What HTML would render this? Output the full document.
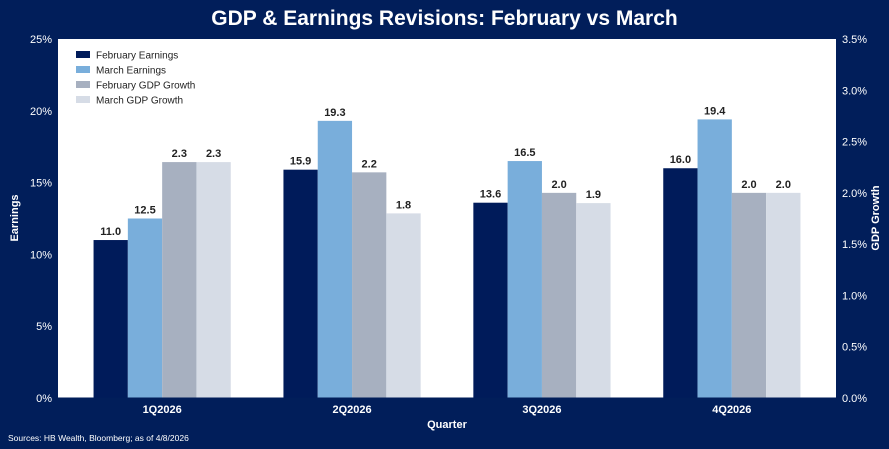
<!DOCTYPE html>
<html><head><meta charset="utf-8"><style>
body{margin:0;background:#011e5a;}
svg{display:block;font-family:"Liberation Sans",Arial,sans-serif;}
</style></head><body>
<svg id="c" width="889" height="449">
<rect width="889" height="449" fill="#011e5a"/>
<text x="444.5" y="25" fill="#fff" font-size="21" font-weight="bold" text-anchor="middle">GDP &amp; Earnings Revisions: February vs March</text>
<rect x="58" y="39" width="778" height="359" fill="#fff"/>
<g id="g"></g>
<text x="18" y="218" fill="#fff" font-size="11" font-weight="bold" text-anchor="middle" transform="rotate(-90 18 218)">Earnings</text>
<text x="879" y="218" fill="#fff" font-size="11" font-weight="bold" text-anchor="middle" transform="rotate(-90 879 218)">GDP Growth</text>
<text x="447" y="428" fill="#fff" font-size="11" font-weight="bold" text-anchor="middle">Quarter</text>
<text x="8" y="441" fill="#fff" font-size="8.5">Sources: HB Wealth, Bloomberg; as of 4/8/2026</text>
</svg>
<script>
const categories=["1Q2026","2Q2026","3Q2026","4Q2026"];
const febEarnings=[11.0,15.9,13.6,16.0];
const marEarnings=[12.5,19.3,16.5,19.4];
const febGDP=[2.3,2.2,2.0,2.0];
const marGDP=[2.3,1.8,1.9,2.0];
const leftTicks=[0,5,10,15,20,25];
const rightTicks=[0,0.5,1.0,1.5,2.0,2.5,3.0,3.5];
const NS="http://www.w3.org/2000/svg";
const g=document.getElementById('g');
const x0=58,x1=836,y0=398,y1=39;
const yL=v=>y0-(v/25)*(y0-y1);
const yR=v=>y0-(v/3.5)*(y0-y1);
const pad=9.2;
const bw=(x1-x0-2*pad)/categories.length;
const xC=i=>x0+pad+bw*(i+0.5);
function mk(t,a){const e=document.createElementNS(NS,t);for(const k in a)e.setAttribute(k,a[k]);g.appendChild(e);return e;}
leftTicks.forEach(v=>{const t=mk('text',{x:52,y:yL(v)+4,fill:'#fff','font-size':11,'text-anchor':'end'});t.textContent=v+'%';

});
rightTicks.forEach(v=>{const t=mk('text',{x:842,y:yR(v)+4,fill:'#fff','font-size':11});t.textContent=v.toFixed(1)+'%';

});
const series=[{d:febEarnings,c:'#001b5a',s:yL,n:'feb-earnings'},{d:marEarnings,c:'#79aedb',s:yL,n:'mar-earnings'},{d:febGDP,c:'#a7b0c0',s:yR,n:'feb-gdp'},{d:marGDP,c:'#d6dce6',s:yR,n:'mar-gdp'}];
const w=34.3;
categories.forEach((c,i)=>{
 series.forEach((s,j)=>{
  const x=xC(i)-2*w+j*w,y=s.s(s.d[i]);
  const r=mk('rect',{x:x,y:y,width:w,height:y0-y,fill:s.c});
  
  
  const t=mk('text',{x:x+w/2,y:y-5,fill:'#222','font-size':11,'font-weight':'bold','text-anchor':'middle'});
  t.textContent=s.d[i].toFixed(1);
  
  
 });
 const t=mk('text',{x:xC(i),y:413,fill:'#fff','font-size':11,'font-weight':'bold','text-anchor':'middle'});
 t.textContent=c;
 
 
});
const ax=mk('line',{x1:x0,y1:y0,x2:x1,y2:y0,stroke:'#011e5a','stroke-width':1});


const names=["February Earnings","March Earnings","February GDP Growth","March GDP Growth"];
names.forEach((n,j)=>{
 const r=mk('rect',{x:76,y:51+j*15,width:14,height:7,fill:series[j].c});
 
 
 const t=mk('text',{x:96,y:58.5+j*15,fill:'#222','font-size':10});
 t.textContent=n;
 
 
});
</script>
</body></html>
